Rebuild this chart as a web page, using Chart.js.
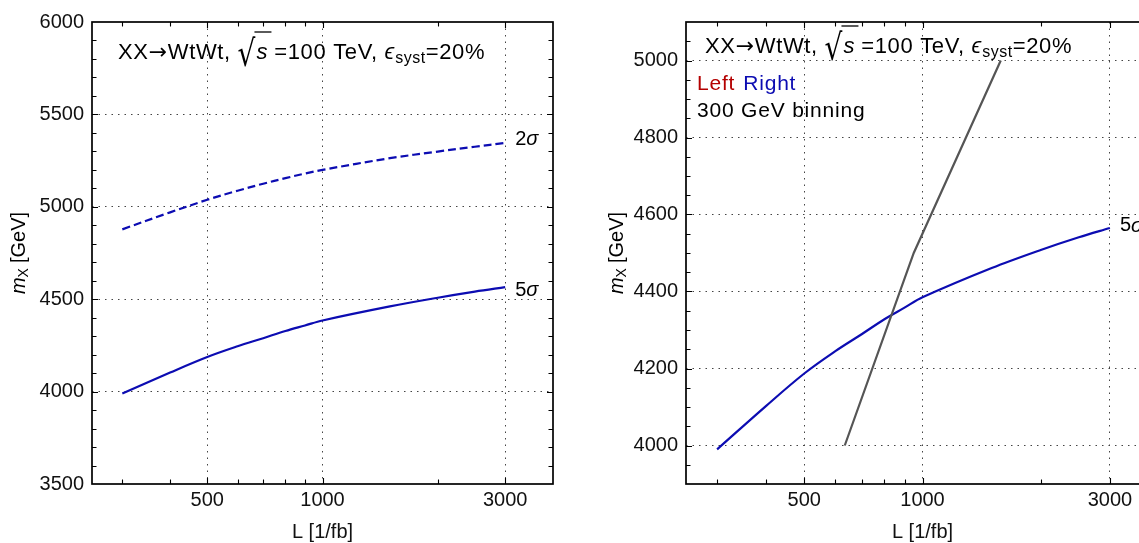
<!DOCTYPE html>
<html><head><meta charset="utf-8">
<script src="https://cdn.jsdelivr.net/npm/chart.js@4/dist/chart.umd.min.js"></script>
<style>
html,body{margin:0;padding:0;background:#fff;overflow:hidden;width:1139px;height:543px;position:relative;}
#wrapL{position:absolute;left:0;top:0;width:570px;height:543px;}
#wrapR{position:absolute;left:594px;top:0;width:570px;height:543px;}
</style></head><body>
<div id="wrapL"><canvas id="cL" width="570" height="543"></canvas></div>
<div id="wrapR"><canvas id="cR" width="570" height="543"></canvas></div>
<script>
// ---- data ----
const lumi = [300, 400, 500, 600, 700, 800, 900, 1000, 1500, 2000, 2500, 3000];
const mass5sigma = [3990, 4103, 4187, 4245, 4289, 4328, 4358, 4385, 4461, 4508, 4541, 4565];
const mass2sigma = [4878, 4970, 5038, 5087, 5125, 5155, 5180, 5200, 5263, 5299, 5325, 5346];
const binLumi = [634, 950, 1582];
const binMass = [4000, 4500, 5000];
const xTickValues = [300, 400, 500, 600, 700, 800, 900, 1000, 2000, 3000];
const xTickLabels = [500, 1000, 3000];
const yLeftMajor = [3500, 4000, 4500, 5000, 5500, 6000];
const yRightMajor = [4000, 4200, 4400, 4600, 4800, 5000];

const FONT = "'Liberation Sans', Arial, sans-serif";
const BLUE = '#0c0cb2';
const RED = '#b40000';
const GRAY = '#555555';
const LS = '0.65px';

function pts(xs, ys) { return xs.map((v, i) => ({x: v, y: ys[i]})); }

function drawRuns(ctx, x, y, runs) {
  for (const r of runs) {
    ctx.font = r.font;
    ctx.letterSpacing = r.ls || '0px';
    ctx.fillStyle = r.color || '#000';
    if (r.sy) {
      ctx.save();
      ctx.translate(x, y + (r.dy || 0));
      ctx.scale(1, r.sy);
      ctx.fillText(r.t, 0, 0);
      ctx.restore();
    } else {
      ctx.fillText(r.t, x, y + (r.dy || 0));
    }
    const w = ctx.measureText(r.t).width;
    if (r.bar) {
      ctx.save();
      ctx.strokeStyle = '#000'; ctx.lineWidth = 1.3;
      ctx.beginPath();
      ctx.moveTo(r.bar.x0 + x, y + r.bar.y);
      ctx.lineTo(x + w + r.bar.ext, y + r.bar.y);
      ctx.stroke();
      ctx.restore();
    }
    x += w + (r.dx || 0);
  }
  ctx.letterSpacing = '0px';
  return x;
}
function runsWidth(ctx, runs) {
  let w = 0;
  for (const r of runs) { ctx.font = r.font; ctx.letterSpacing = r.ls || '0px'; w += ctx.measureText(r.t).width + (r.dx || 0); }
  ctx.letterSpacing = '0px';
  return w;
}

const titleRuns = [
  {t: 'XX', font: `22px ${FONT}`, ls: LS},
  {t: '\u2192', font: `22px 'DejaVu Sans', sans-serif`, ls: LS},
  {t: 'WtWt, ', font: `22px ${FONT}`, ls: LS},
  {t: '\u221A', font: `28px 'DejaVu Sans', sans-serif`, sy: 1.3, dy: 7, dx: 1},
  {t: 's', font: `italic 22px ${FONT}`, dx: 0, bar: {x0: -2, y: -27, ext: 4}},
  {t: ' =100 TeV, ', font: `22px ${FONT}`, ls: LS},
  {t: '\u03F5', font: `italic 22px ${FONT}`, dx: 1},
  {t: 'syst', font: `16px ${FONT}`, dy: 4, ls: '0.5px'},
  {t: '=20%', font: `22px ${FONT}`, ls: LS}
];

function makePlugin(cfg) {
  return {
    id: 'deco',
    afterDraw(chart) {
      const {ctx, chartArea: a, scales: {x, y}} = chart;
      ctx.save();
      // inward tick marks on all four sides
      ctx.strokeStyle = '#000'; ctx.lineWidth = 1.1;
      ctx.beginPath();
      x.ticks.forEach(t => {
        const p = Math.round(x.getPixelForValue(t.value)) + 0.5;
        if (p <= a.left + 1 || p >= a.right - 1) return;
        const L = xTickLabels.includes(t.value) ? 6 : 4.5;
        ctx.moveTo(p, a.bottom); ctx.lineTo(p, a.bottom - L);
        ctx.moveTo(p, a.top); ctx.lineTo(p, a.top + L);
      });
      y.ticks.forEach(t => {
        const p = Math.round(y.getPixelForValue(t.value)) + 0.5;
        if (p <= a.top + 1 || p >= a.bottom - 1) return;
        const L = cfg.yMajor.includes(Math.round(t.value)) ? 6 : 4.5;
        ctx.moveTo(a.left, p); ctx.lineTo(a.left + L, p);
        ctx.moveTo(a.right, p); ctx.lineTo(a.right - L, p);
      });
      ctx.stroke();
      ctx.lineWidth = 1.7;
      ctx.strokeRect(a.left, a.top, a.right - a.left, a.bottom - a.top);

      // y-axis title  m_X [GeV]
      ctx.save();
      ctx.translate(cfg.yTitleX, (a.top + a.bottom) / 2);
      ctx.rotate(-Math.PI / 2);
      ctx.textBaseline = 'middle';
      const yt = [
        {t: 'm', font: `italic 20px ${FONT}`},
        {t: 'X', font: `14px ${FONT}`, dy: 5, dx: 5},
        {t: '[GeV]', font: `20px ${FONT}`}
      ];
      drawRuns(ctx, -runsWidth(ctx, yt) / 2, 0, yt);
      ctx.restore();

      // header text
      ctx.textBaseline = 'alphabetic';
      drawRuns(ctx, cfg.titleX, cfg.titleY, titleRuns);
      if (cfg.extra) {
        drawRuns(ctx, cfg.titleX - 8, cfg.titleY + 37, [
          {t: 'Left', font: `21px ${FONT}`, color: RED, dx: 8, ls: '0.8px'},
          {t: 'Right', font: `21px ${FONT}`, color: BLUE, ls: '0.8px'}
        ]);
        drawRuns(ctx, cfg.titleX - 8, cfg.titleY + 64, [
          {t: '300 GeV binning', font: `21px ${FONT}`, ls: '0.8px'}
        ]);
      }
      // curve labels
      ctx.textBaseline = 'middle';
      cfg.curveLabels.forEach(c => {
        const px = x.getPixelForValue(lumi[lumi.length - 1]) + 10;
        const py = y.getPixelForValue(c.v) + c.dy;
        drawRuns(ctx, px, py, [
          {t: c.n, font: `20px ${FONT}`},
          {t: '\u03C3', font: `italic 20px ${FONT}`}
        ]);
      });
      ctx.restore();
    }
  };
}

function makeChart(id, datasets, ymin, ymax, ystep, yMajor, rightPad, plugCfg) {
  plugCfg.yMajor = yMajor;
  return new Chart(document.getElementById(id), {
    type: 'line',
    data: {datasets},
    options: {
      responsive: false,
      devicePixelRatio: 1,
      animation: false,
      events: [],
      layout: {padding: {left: 0, top: 22, right: rightPad, bottom: 0}},
      plugins: {legend: {display: false}, tooltip: {enabled: false}},
      elements: {point: {radius: 0}, line: {tension: 0.35, borderCapStyle: 'butt'}},
      scales: {
        x: {
          type: 'logarithmic', min: 250, max: 4000,
          afterBuildTicks: s => { s.ticks = xTickValues.map(v => ({value: v})); },
          afterFit: s => { s.height = 59; },
          grid: {
            drawTicks: false,
            lineWidth: 1,
            color: c => (c.tick && xTickLabels.includes(c.tick.value)) ? '#444' : 'rgba(0,0,0,0)'
          },
          border: {display: false, dash: [1.5, 5]},
          ticks: {
            autoSkip: false, maxRotation: 0, padding: 4,
            font: {family: FONT, size: 20}, color: '#111',
            callback: v => xTickLabels.includes(v) ? String(v) : ''
          },
          title: {display: true, text: 'L [1/fb]', font: {family: FONT, size: 20}, color: '#111', padding: {top: 0, bottom: -1}}
        },
        y: {
          type: 'linear', min: ymin, max: ymax,
          afterFit: s => { s.width = 92; },
          grid: {
            drawTicks: false,
            lineWidth: 1,
            color: c => {
              const v = c.tick ? Math.round(c.tick.value) : null;
              return (v !== null && yMajor.includes(v) && v !== ymin && v !== ymax) ? '#444' : 'rgba(0,0,0,0)';
            }
          },
          border: {display: false, dash: [1.5, 5]},
          ticks: {
            stepSize: ystep, autoSkip: false, padding: 8,
            font: {family: FONT, size: 20}, color: '#111',
            callback: v => yMajor.includes(Math.round(v)) ? String(Math.round(v)) : ''
          }
        }
      }
    },
    plugins: [makePlugin(plugCfg)]
  });
}

makeChart('cL', [
  {data: pts(lumi, mass2sigma), borderColor: BLUE, borderWidth: 2.2, borderDash: [8, 4], fill: false},
  {data: pts(lumi, mass5sigma), borderColor: BLUE, borderWidth: 2.2, fill: false}
], 3500, 6000, 100, yLeftMajor, 17, {
  yTitleX: 19, titleX: 118, titleY: 59,
  curveLabels: [{n: '2', v: mass2sigma[mass2sigma.length - 1], dy: -3}, {n: '5', v: mass5sigma[mass5sigma.length - 1], dy: 3}]
});

makeChart('cR', [
  {data: pts(binLumi, binMass), borderColor: GRAY, borderWidth: 2.2, fill: false, tension: 0},
  {data: pts(lumi, mass5sigma), borderColor: BLUE, borderWidth: 2.2, fill: false}
], 3900, 5100, 50, yRightMajor, 5, {
  yTitleX: 23, titleX: 111, titleY: 53, extra: true,
  curveLabels: [{n: '5', v: mass5sigma[mass5sigma.length - 1], dy: -2}]
});
</script>
</body></html>
